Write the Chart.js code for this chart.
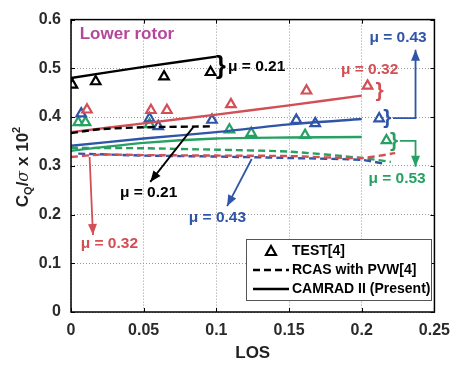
<!DOCTYPE html>
<html lang="en">
<head>
<meta charset="UTF-8">
<title>Lower rotor CQ vs LOS</title>
<script src="https://cdn.jsdelivr.net/npm/chart.js@4"></script>
<style>
  * { margin: 0; padding: 0; }
  body { background: #fff; }
  #wrap { width: 459px; height: 368px; }
</style>
</head>
<body>
<div id="wrap"><canvas id="chart" width="459" height="368"></canvas></div>
<script>
// TEST[4] points
const test021X = [0.001, 0.017, 0.064, 0.096];
const test021Y = [0.466, 0.473, 0.483, 0.492];
const test032X = [0.011, 0.055, 0.066, 0.110, 0.162, 0.204];
const test032Y = [0.415, 0.414, 0.414, 0.426, 0.454, 0.464];
const test043X = [0.007, 0.054, 0.060, 0.097, 0.155, 0.168, 0.212];
const test043Y = [0.407, 0.397, 0.381, 0.394, 0.394, 0.387, 0.397];
const test053X = [0.005, 0.010, 0.054, 0.109, 0.124, 0.161, 0.217];
const test053Y = [0.389, 0.389, 0.385, 0.374, 0.367, 0.363, 0.352];

// CAMRAD II (Present)
const cam021X = [0, 0.05, 0.1];
const cam021Y = [0.480, 0.503, 0.524];
const camX = [0, 0.05, 0.1, 0.15, 0.2];
const cam032Y = [0.369, 0.387, 0.405, 0.424, 0.444];
const cam043Y = [0.341, 0.356, 0.369, 0.385, 0.396];
const cam053Y = [0.331, 0.347, 0.356, 0.358, 0.359];

// RCAS with PVW[4]
const rcas021X = [0, 0.02, 0.05, 0.098];
const rcas021Y = [0.367, 0.375, 0.379, 0.381];
const rcas032X = [0, 0.02, 0.05, 0.1, 0.15, 0.2, 0.223];
const rcas032Y = [0.318, 0.323, 0.322, 0.321, 0.320, 0.316, 0.326];
const rcas043X = [0.005, 0.05, 0.1, 0.15, 0.2, 0.216];
const rcas043Y = [0.325, 0.321, 0.319, 0.316, 0.312, 0.304];
const rcas053X = [0, 0.05, 0.1, 0.15, 0.2, 0.22];
const rcas053Y = [0.337, 0.336, 0.333, 0.329, 0.316, 0.308];

const xTicks = [0, 0.05, 0.1, 0.15, 0.2, 0.25];
const yTicks = [0, 0.1, 0.2, 0.3, 0.4, 0.5, 0.6];

const BLACK = '#000000';
const RED = '#d24f55';
const BLUE = '#2f55a8';
const GREEN = '#27a063';
const PINK = '#b5479b';

function pts(xs, ys) {
  return xs.map((x, i) => ({ x: x, y: ys[i] }));
}

function lineSet(xs, ys, color, dashed) {
  return {
    data: pts(xs, ys),
    showLine: true,
    borderColor: color,
    borderWidth: 2.4,
    borderDash: dashed ? [7, 4] : [],
    pointRadius: 0,
    tension: 0.25,
    fill: false
  };
}

function testSet(xs, ys, color) {
  return {
    data: pts(xs, ys),
    showLine: false,
    pointStyle: 'triangle',
    pointRadius: 5.5,
    pointBorderWidth: 2.2,
    pointBorderColor: color,
    pointBackgroundColor: 'rgba(255,255,255,0)',
    borderColor: color
  };
}

const datasets = [
  lineSet(rcas021X, rcas021Y, BLACK, true),
  lineSet(rcas032X, rcas032Y, RED, true),
  lineSet(rcas043X, rcas043Y, BLUE, true),
  lineSet(rcas053X, rcas053Y, GREEN, true),
  lineSet(cam021X, cam021Y, BLACK, false),
  lineSet(camX, cam032Y, RED, false),
  lineSet(camX, cam043Y, BLUE, false),
  lineSet(camX, cam053Y, GREEN, false),
  testSet(test021X, test021Y, BLACK),
  testSet(test032X, test032Y, RED),
  testSet(test043X, test043Y, BLUE),
  testSet(test053X, test053Y, GREEN)
];

// helpers for the overlay drawing
function arrowHead(ctx, x1, y1, x2, y2, color) {
  const a = Math.atan2(y2 - y1, x2 - x1);
  const len = 11, hw = 4.5;
  ctx.fillStyle = color;
  ctx.beginPath();
  ctx.moveTo(x2, y2);
  ctx.lineTo(x2 - len * Math.cos(a) + hw * Math.sin(a), y2 - len * Math.sin(a) - hw * Math.cos(a));
  ctx.lineTo(x2 - len * Math.cos(a) - hw * Math.sin(a), y2 - len * Math.sin(a) + hw * Math.cos(a));
  ctx.closePath();
  ctx.fill();
}

function polyArrow(ctx, p, color) {
  ctx.strokeStyle = color;
  ctx.lineWidth = 1.8;
  ctx.setLineDash([]);
  ctx.beginPath();
  ctx.moveTo(p[0][0], p[0][1]);
  for (let i = 1; i < p.length; i++) ctx.lineTo(p[i][0], p[i][1]);
  ctx.stroke();
  const n = p.length;
  arrowHead(ctx, p[n - 2][0], p[n - 2][1], p[n - 1][0], p[n - 1][1], color);
}

const overlay = {
  id: 'overlay',
  beforeDatasetsDraw(chart) {
    const ctx = chart.ctx;
    const xs = chart.scales.x, ys = chart.scales.y;
    ctx.save();
    // inward tick marks
    ctx.strokeStyle = '#000';
    ctx.lineWidth = 1;
    xTicks.forEach(v => {
      const px = Math.round(xs.getPixelForValue(v)) + 0.5;
      ctx.beginPath();
      ctx.moveTo(px, ys.bottom); ctx.lineTo(px, ys.bottom - 4);
      ctx.moveTo(px, ys.top); ctx.lineTo(px, ys.top + 4);
      ctx.stroke();
    });
    yTicks.forEach(v => {
      const py = Math.round(ys.getPixelForValue(v)) + 0.5;
      ctx.beginPath();
      ctx.moveTo(xs.left, py); ctx.lineTo(xs.left + 4, py);
      ctx.moveTo(xs.right, py); ctx.lineTo(xs.right - 4, py);
      ctx.stroke();
    });
    ctx.restore();
  },
  afterDatasetsDraw(chart) {
    const ctx = chart.ctx;
    const xs = chart.scales.x, ys = chart.scales.y;
    const X = v => xs.getPixelForValue(v);
    const Y = v => ys.getPixelForValue(v);
    ctx.save();

    // frame
    ctx.strokeStyle = '#000';
    ctx.lineWidth = 1.5;
    ctx.setLineDash([]);
    ctx.strokeRect(xs.left, ys.top, xs.right - xs.left, ys.bottom - ys.top);

    // y axis title with sub/superscript
    ctx.save();
    ctx.translate(22, 167);
    ctx.rotate(-Math.PI / 2);
    ctx.fillStyle = '#222';
    ctx.textBaseline = 'alphabetic';
    ctx.textAlign = 'left';
    const parts = [
      { t: 'C', f: 'bold 17px "Liberation Sans", Arial, sans-serif', dy: 0 },
      { t: 'Q', f: 'bold 11px "Liberation Sans", Arial, sans-serif', dy: 4 },
      { t: '/', f: 'bold 17px "Liberation Sans", Arial, sans-serif', dy: 0 },
      { t: 'σ', f: 'italic 16px "DejaVu Serif", serif', dy: 0 },
      { t: ' x 10', f: 'bold 17px "Liberation Sans", Arial, sans-serif', dy: 0 },
      { t: '2', f: 'bold 11px "Liberation Sans", Arial, sans-serif', dy: -8 }
    ];
    let total = 0;
    parts.forEach(p => { ctx.font = p.f; total += ctx.measureText(p.t).width; });
    let cx = -total / 2;
    parts.forEach(p => {
      ctx.font = p.f;
      ctx.fillText(p.t, cx, 6 + p.dy);
      cx += ctx.measureText(p.t).width;
    });
    ctx.restore();

    const bold = s => 'bold ' + s + 'px "Liberation Sans", Arial, sans-serif';
    function label(text, x, y, color, size, align) {
      ctx.font = bold(size || 14);
      ctx.fillStyle = color;
      ctx.textAlign = align || 'center';
      ctx.textBaseline = 'middle';
      ctx.fillText(text, x, y);
    }
    function brace(x, y, color, size) {
      ctx.font = bold(size || 20);
      ctx.fillStyle = color;
      ctx.textAlign = 'center';
      ctx.textBaseline = 'middle';
      ctx.fillText('}', x, y);
    }

    const MU = 15.5;
    label('Lower rotor', X(0.006), Y(0.570), PINK, 17, 'left');

    // mu = 0.21
    brace(X(0.103), Y(0.504), BLACK, 26);
    label('μ = 0.21', X(0.108), Y(0.504), BLACK, MU, 'left');
    polyArrow(ctx, [[X(0.0845), Y(0.381)], [X(0.0545), Y(0.267)]], BLACK);
    label('μ = 0.21', X(0.0534), Y(0.244), BLACK, MU);

    // mu = 0.32
    polyArrow(ctx, [[X(0.0128), Y(0.318)], [X(0.0151), Y(0.158)]], RED);
    label('μ = 0.32', X(0.0264), Y(0.140), RED, MU);
    brace(X(0.2122), Y(0.454), RED, 21);
    label('μ = 0.32', X(0.2054), Y(0.498), RED, MU);

    // mu = 0.43
    polyArrow(ctx, [[X(0.1243), Y(0.314)], [X(0.1074), Y(0.2174)]], BLUE);
    label('μ = 0.43', X(0.1007), Y(0.194), BLUE, MU);
    brace(X(0.2176), Y(0.398), BLUE, 21);
    polyArrow(ctx, [[X(0.2215), Y(0.398)], [X(0.237), Y(0.398)], [X(0.237), Y(0.538)]], BLUE);
    label('μ = 0.43', X(0.225), Y(0.562), BLUE, MU);

    // mu = 0.53
    brace(X(0.2223), Y(0.351), GREEN, 21);
    polyArrow(ctx, [[X(0.2262), Y(0.351)], [X(0.237), Y(0.351)], [X(0.237), Y(0.298)]], GREEN);
    label('μ = 0.53', X(0.2243), Y(0.274), GREEN, MU);

    // legend box
    const lx = 246, ly = 239, lw = 185, lh = 61;
    ctx.fillStyle = '#fff';
    ctx.fillRect(lx, ly, lw, lh);
    ctx.strokeStyle = '#555';
    ctx.lineWidth = 1;
    ctx.strokeRect(lx + 0.5, ly + 0.5, lw, lh);
    const rows = [251, 270, 289];
    // triangle marker
    ctx.strokeStyle = '#000';
    ctx.lineWidth = 2.2;
    ctx.beginPath();
    ctx.moveTo(271, rows[0] - 5);
    ctx.lineTo(276, rows[0] + 4);
    ctx.lineTo(266, rows[0] + 4);
    ctx.closePath();
    ctx.stroke();
    ctx.lineWidth = 2.4;
    ctx.setLineDash([7, 4]);
    ctx.beginPath();
    ctx.moveTo(253, rows[1]); ctx.lineTo(289, rows[1]);
    ctx.stroke();
    ctx.setLineDash([]);
    ctx.beginPath();
    ctx.moveTo(253, rows[2]); ctx.lineTo(289, rows[2]);
    ctx.stroke();
    label('TEST[4]', 292, rows[0], '#000', 14, 'left');
    label('RCAS with PVW[4]', 292, rows[1], '#000', 14, 'left');
    label('CAMRAD II (Present)', 292, rows[2], '#000', 14, 'left');

    ctx.restore();
  }
};

const tickFont = { family: '"Liberation Sans", Arial, sans-serif', size: 16, weight: 'bold' };

new Chart(document.getElementById('chart'), {
  type: 'scatter',
  data: { datasets: datasets },
  plugins: [overlay],
  options: {
    responsive: false,
    animation: false,
    layout: { padding: { top: 12, right: 18, left: 0, bottom: 0 } },
    plugins: { legend: { display: false }, tooltip: { enabled: false } },
    scales: {
      x: {
        type: 'linear',
        min: 0, max: 0.25,
        afterBuildTicks: s => { s.ticks = xTicks.map(v => ({ value: v })); },
        afterFit: s => { s.height = 56; },
        grid: { color: '#9a9a9a', drawTicks: false },
        border: { display: false, dash: [1, 2] },
        ticks: { font: tickFont, color: '#2a2a2a', padding: 9, callback: v => String(v) },
        title: { display: true, text: 'LOS', font: { family: '"Liberation Sans", Arial, sans-serif', size: 17, weight: 'bold' }, color: '#222', padding: { top: 0, bottom: 4 } }
      },
      y: {
        type: 'linear',
        min: 0, max: 0.6,
        afterBuildTicks: s => { s.ticks = yTicks.map(v => ({ value: v })); },
        afterFit: s => { s.width = 71; },
        grid: { color: '#9a9a9a', drawTicks: false },
        border: { display: false, dash: [1, 2] },
        ticks: { font: tickFont, color: '#2a2a2a', padding: 10, callback: v => String(v) }
      }
    }
  }
});
</script>
</body>
</html>
